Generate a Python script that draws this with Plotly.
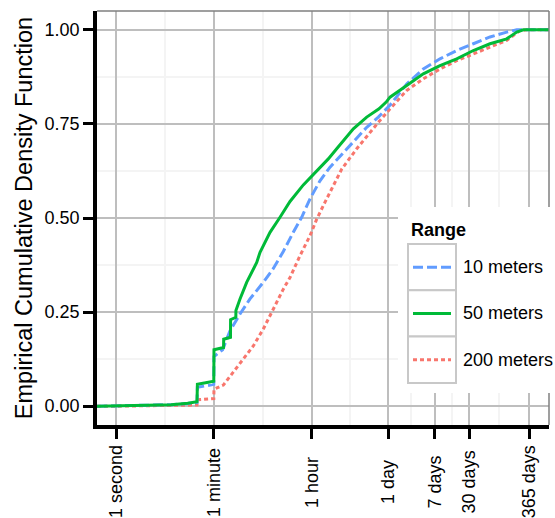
import math
import plotly.graph_objects as go

# ---------------- data ----------------
series_names = ["10 meters", "50 meters", "200 meters"]
series_colors = ["#619CFF", "#00BA38", "#F8766D"]
series_dash = ["10px,4px", "solid", "4px,3px"]

# time in seconds, ECDF value
t_10m = [1, 10, 20, 29.5, 30, 59.5, 60, 86, 117, 178, 270, 471, 716, 1087,
         1651, 2345, 3318, 5036, 7650, 10820, 20270, 35480, 57560, 94000,
         188700, 377600, 758600, 1524000, 3053000, 6134000, 12320000, 18720000]
f_10m = [0.001, 0.004, 0.007, 0.010, 0.050, 0.058, 0.132, 0.150, 0.200, 0.245,
         0.285, 0.329, 0.366, 0.411, 0.462, 0.502, 0.551, 0.599, 0.635,
         0.659, 0.701, 0.741, 0.768, 0.800, 0.856, 0.896, 0.923, 0.945, 0.963,
         0.981, 0.994, 1.0]

t_50m = [1, 3, 10, 20, 29.5, 30, 59.5, 60, 89.5, 90, 119.5, 120, 149.5, 150, 178,
         235, 290, 358, 411, 624, 947, 1438, 2508, 4390, 7120, 10120, 20270,
         35480, 59300, 80000, 94000, 188700, 377600, 758600, 1524000, 3053000,
         6134000, 12320000, 18720000, 24660000]
f_50m = [0.001, 0.002, 0.004, 0.008, 0.012, 0.058, 0.066, 0.150, 0.156, 0.178,
         0.183, 0.230, 0.236, 0.254, 0.285, 0.329, 0.355, 0.382, 0.409, 0.462,
         0.502, 0.544, 0.588, 0.626, 0.657, 0.684, 0.737, 0.768, 0.790, 0.808,
         0.821, 0.852, 0.883, 0.905, 0.923, 0.945, 0.963, 0.976, 0.994, 1.0]

t_200m = [1, 29.5, 30, 59.5, 60, 88.6, 134.5, 204, 310, 471, 716, 1087, 1438,
          2183, 3318, 4390, 6210, 8790, 12480, 23360, 40740, 57560, 94000,
          188700, 377600, 758600, 1524000, 3053000, 6134000, 12320000,
          21480000, 28440000]
f_200m = [0.0, 0.003, 0.017, 0.020, 0.045, 0.056, 0.090, 0.125, 0.160, 0.205,
          0.258, 0.311, 0.342, 0.400, 0.453, 0.497, 0.542, 0.586, 0.630, 0.684,
          0.728, 0.754, 0.790, 0.839, 0.870, 0.896, 0.918, 0.936, 0.954, 0.972,
          0.998, 1.0]

series_t = [t_10m, t_50m, t_200m]
series_f = [f_10m, f_50m, f_200m]

x_tick_vals = [1, 60, 3600, 86400, 604800, 2592000, 31536000]
x_tick_text = ["1 second", "1 minute", "1 hour", "1 day", "7 days", "30 days", "365 days"]
y_tick_vals = [0.0, 0.25, 0.5, 0.75, 1.0]
y_minor_vals = [0.125, 0.375, 0.625, 0.875]

legend_title = "Range"
y_title = "Empirical Cumulative Density Function"

# ---------------- layout geometry ----------------
W_FIG, H_FIG = 555, 518
M_L, M_R, M_T, M_B = 97, 6, 11, 93
PW = W_FIG - M_L - M_R
PH = H_FIG - M_T - M_B
X_RANGE = [-0.345, 7.858]
Y_RANGE = [-0.05, 1.05]
FONT = "Liberation Sans, Arial, Helvetica, sans-serif"


def px(x):
    return (x - M_L) / PW


def py(y):
    return (H_FIG - M_B - y) / PH


x_lo, x_hi = 10 ** X_RANGE[0], 10 ** X_RANGE[1]
x_minor_vals = [10 ** ((math.log10(a) + math.log10(b)) / 2)
                for a, b in zip(x_tick_vals[:-1], x_tick_vals[1:])]

fig = go.Figure()
# draw order: 200 m, 10 m, 50 m (green on top)
for i in [2, 0, 1]:
    fig.add_trace(go.Scatter(
        x=[x_lo] + series_t[i] + [x_hi],
        y=[0.0] + series_f[i] + [1.0],
        mode="lines",
        name=series_names[i],
        line=dict(color=series_colors[i], width=3, dash=series_dash[i]),
        showlegend=False,
        hoverinfo="skip",
    ))

grid_major = "#BEBEBE"
grid_minor = "#F4F4F4"

fig.update_xaxes(
    type="log", range=X_RANGE,
    tickmode="array", tickvals=x_tick_vals, ticktext=x_tick_text,
    showticklabels=False,
    ticks="outside", ticklen=10, tickwidth=2.5, tickcolor="black",
    showgrid=True, gridcolor=grid_major, gridwidth=2,
    minor=dict(tickmode="array", tickvals=x_minor_vals, showgrid=True,
               gridcolor=grid_minor, gridwidth=2, ticks=""),
    showline=True, linecolor="black", linewidth=3.5,
    zeroline=False,
)
fig.update_yaxes(
    range=Y_RANGE,
    tickmode="array", tickvals=y_tick_vals, tickformat=".2f",
    ticks="outside", ticklen=10, tickwidth=2.5, tickcolor="black",
    tickfont=dict(family=FONT, size=18, color="black"),
    showgrid=True, gridcolor=grid_major, gridwidth=2,
    minor=dict(tickmode="array", tickvals=y_minor_vals, showgrid=True,
               gridcolor=grid_minor, gridwidth=2, ticks=""),
    showline=True, linecolor="black", linewidth=3.5,
    zeroline=False,
    title=dict(text=y_title, font=dict(family=FONT, size=23.5, color="black"),
               standoff=6),
)

annotations = []
# x tick labels, rotated, centred below ticks
for v, t in zip(x_tick_vals, x_tick_text):
    annotations.append(dict(
        x=math.log10(v), y=py(482), xref="x", yref="paper",
        text=t, textangle=-90, showarrow=False,
        xanchor="center", yanchor="middle",
        font=dict(family=FONT, size=18, color="black"),
    ))

shapes = [
    # panel border (top and right), grey
    dict(type="line", xref="paper", yref="paper", x0=0, x1=1, y0=1, y1=1,
         line=dict(color="#7F7F7F", width=1.5), layer="above"),
    dict(type="line", xref="paper", yref="paper", x0=1, x1=1, y0=0, y1=1,
         line=dict(color="#7F7F7F", width=1.5), layer="above"),
    # legend background
    dict(type="rect", xref="paper", yref="paper",
         x0=px(398), x1=px(556), y0=py(393), y1=py(207),
         line=dict(width=0), fillcolor="white", layer="above"),
]

annotations.append(dict(
    x=px(409), y=py(230), xref="paper", yref="paper", text="<b>%s</b>" % legend_title,
    showarrow=False, xanchor="left", yanchor="middle",
    font=dict(family=FONT, size=18, color="black"),
))
row_top = 244
row_h = 46.3
for k, i in enumerate([0, 1, 2]):
    y0 = row_top + k * row_h
    y1 = y0 + row_h
    ym = (y0 + y1) / 2
    shapes.append(dict(type="rect", xref="paper", yref="paper",
                       x0=px(408), x1=px(456), y0=py(y1), y1=py(y0),
                       line=dict(color="#C8C8C8", width=2), fillcolor="white",
                       layer="above"))
    shapes.append(dict(type="line", xref="paper", yref="paper",
                       x0=px(413), x1=px(451), y0=py(ym), y1=py(ym),
                       line=dict(color=series_colors[i], width=3, dash=series_dash[i]),
                       layer="above"))
    annotations.append(dict(
        x=px(461), y=py(ym), xref="paper", yref="paper", text=series_names[i],
        showarrow=False, xanchor="left", yanchor="middle",
        font=dict(family=FONT, size=18, color="black"),
    ))

fig.update_layout(
    width=W_FIG, height=H_FIG,
    margin=dict(l=M_L, r=M_R, t=M_T, b=M_B),
    paper_bgcolor="white", plot_bgcolor="white",
    font=dict(family=FONT, size=18, color="black"),
    showlegend=False,
    shapes=shapes,
    annotations=annotations,
)

fig.write_html("out.html")
